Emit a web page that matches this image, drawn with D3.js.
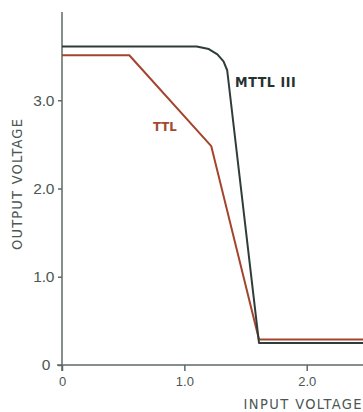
<!DOCTYPE html>
<html lang="en">
<head>
<meta charset="UTF-8">
<title>Output vs input voltage</title>
<style>
  body { margin: 0; background: #fff; }
  svg { display: block; font-family: "DejaVu Sans Condensed", "DejaVu Sans", sans-serif; }
  .axis path, .axis line { stroke: #5d6a66; stroke-width: 1.5; }
  .axis text { fill: #4b5753; }
  .line { fill: none; stroke-width: 2; stroke-linejoin: round; }
</style>
<script src="https://cdn.jsdelivr.net/npm/d3@7"></script>
</head>
<body>
<div id="chart"></div>
<script>
// transfer curves (input V -> output V)
var mttlIn  = [0, 1.10, 1.20, 1.27, 1.32, 1.35, 1.61, 2.6];
var mttlOut = [3.61, 3.61, 3.58, 3.52, 3.44, 3.34, 0.25, 0.25];
var ttlIn   = [0, 0.55, 1.22, 1.61, 2.6];
var ttlOut  = [3.51, 3.51, 2.48, 0.29, 0.29];
var xTicks = [0, 1.0, 2.0];
var yTicks = [0, 1.0, 2.0, 3.0];

var W = 363, H = 412;
var margin = { left: 62, top: 12, right: 0, bottom: 47 };

var svg = d3.select("#chart").append("svg")
    .attr("width", W)
    .attr("height", H);

var x = d3.scaleLinear().domain([0, 2.46]).range([margin.left, W]);
var y = d3.scaleLinear().domain([0, 4.0]).range([365, 12]);

var fmt = function (d) { return d === 0 ? "0" : d3.format(".1f")(d); };

// axes
var xAxis = svg.append("g")
    .attr("class", "axis")
    .attr("transform", "translate(0," + y(0) + ")")
    .call(d3.axisBottom(x).tickValues(xTicks).tickSizeOuter(0).tickSize(6).tickFormat(fmt));
xAxis.select(".domain").attr("d", "M" + (x(0) - 5) + ",0H" + W);
xAxis.selectAll("text").attr("font-size", 13).attr("y", 9).attr("dy", "0.95em");

var yAxis = svg.append("g")
    .attr("class", "axis")
    .attr("transform", "translate(" + x(0) + ",0)")
    .call(d3.axisLeft(y).tickValues(yTicks).tickSizeOuter(0).tickSize(4).tickFormat(fmt));
yAxis.select(".domain").attr("d", "M0," + (y(0) + 6) + "V" + y(4.0));
yAxis.selectAll(".tick text").attr("x", -8).attr("font-size", 15.5).attr("letter-spacing", -0.3);
yAxis.selectAll(".tick").filter(function (d) { return d === 0; }).select("text").attr("x", -12);

// axis titles
svg.append("text")
    .attr("x", W)
    .attr("y", 409)
    .attr("text-anchor", "end")
    .attr("fill", "#4b5753")
    .attr("font-size", 14.5)
    .attr("letter-spacing", 1.4)
    .text("INPUT VOLTAGE");

svg.append("text")
    .attr("transform", "translate(22,184) rotate(-90)")
    .attr("text-anchor", "middle")
    .attr("fill", "#4b5753")
    .attr("font-size", 14.5)
    .attr("letter-spacing", 1.2)
    .text("OUTPUT VOLTAGE");

// curves
var line = d3.line()
    .x(function (d) { return x(d[0]); })
    .y(function (d) { return y(d[1]); });

svg.append("path")
    .attr("class", "line")
    .attr("stroke", "#a3452e")
    .attr("d", line(d3.zip(ttlIn, ttlOut)));

svg.append("path")
    .attr("class", "line")
    .attr("stroke", "#2f3d39")
    .attr("d", line(d3.zip(mttlIn, mttlOut)));

// labels
svg.append("text")
    .attr("x", 235)
    .attr("y", 87)
    .attr("fill", "#26302d")
    .attr("font-size", 14)
    .attr("font-weight", "bold")
    .attr("letter-spacing", 0.6)
    .text("MTTL III");

svg.append("text")
    .attr("x", 153)
    .attr("y", 131)
    .attr("fill", "#a04a30")
    .attr("font-size", 13)
    .attr("font-weight", "bold")
    .text("TTL");
</script>
</body>
</html>
